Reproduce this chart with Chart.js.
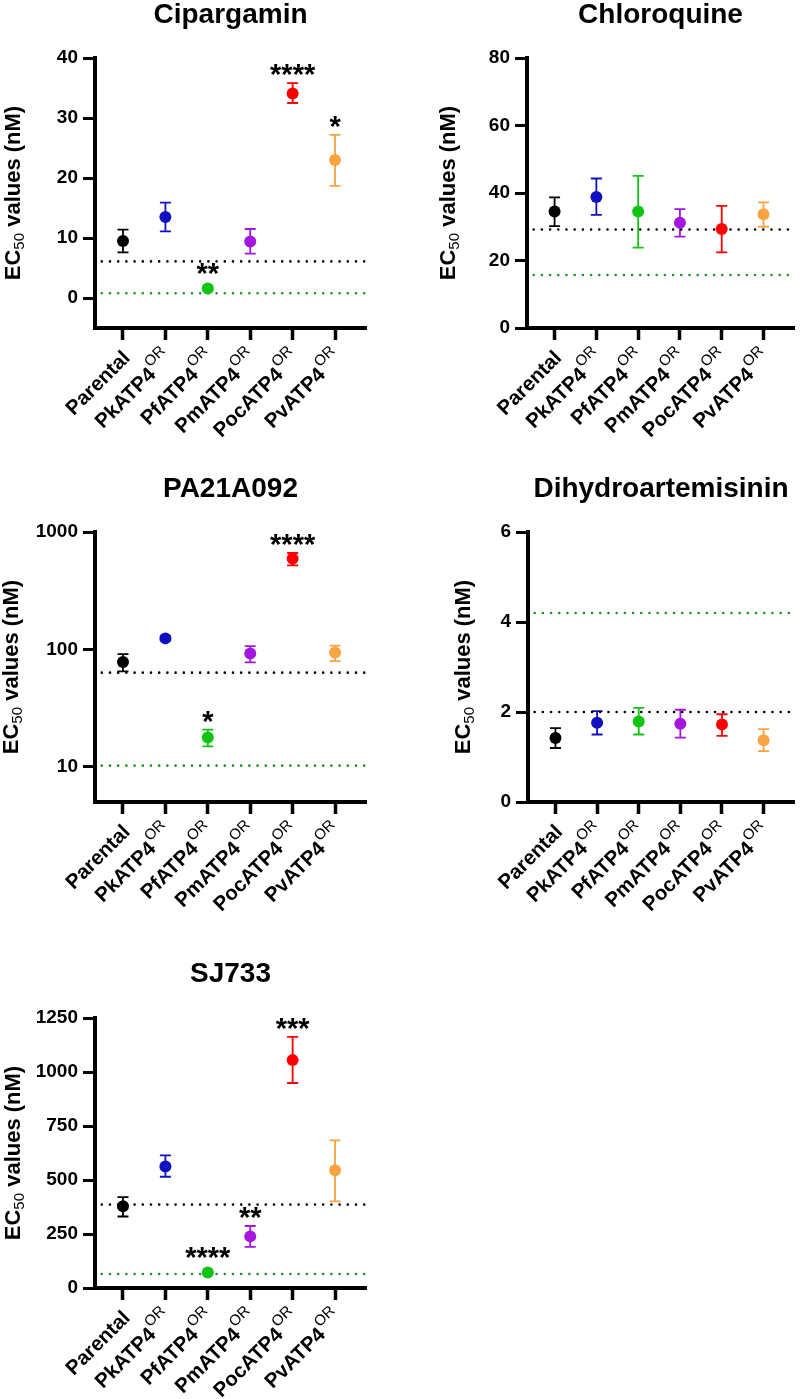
<!DOCTYPE html>
<html>
<head>
<meta charset="utf-8">
<script src="https://cdn.jsdelivr.net/npm/chart.js@4.4.1/dist/chart.umd.min.js"></script>
<style>
  body { margin: 0; background: #fff; width: 800px; height: 1399px; position: relative; overflow: hidden; }
  canvas { position: absolute; }
</style>
</head>
<body>
<canvas id="cipargamin" width="400" height="460" style="left:0;top:0"></canvas>
<canvas id="chloroquine" width="400" height="460" style="left:400px;top:0"></canvas>
<canvas id="pa21" width="400" height="460" style="left:0;top:460px"></canvas>
<canvas id="dha" width="400" height="460" style="left:400px;top:460px"></canvas>
<canvas id="sj733" width="400" height="479" style="left:0;top:920px"></canvas>
<script>
var FONT = '"Liberation Sans", Arial, Helvetica, sans-serif';

var categories = ['Parental', 'PkATP4', 'PfATP4', 'PmATP4', 'PocATP4', 'PvATP4'];
var supers = ['', 'OR', 'OR', 'OR', 'OR', 'OR'];
var colors = ['#000000', '#1010c0', '#12c412', '#a516e0', '#ff0000', '#f9a343'];
var refColors = ['#000000', '#1f8f1f'];

// Cipargamin
var ciparMean = [9.5, 13.5, 1.6, 9.4, 34.1, 23.0];
var ciparLow = [7.6, 11.1, 1.3, 7.4, 32.5, 18.7];
var ciparHigh = [11.4, 15.9, 1.9, 11.5, 35.8, 27.2];
var ciparStars = ['', '', '**', '', '****', '*'];
var ciparRef = [6.1, 0.8];
var ciparTicks = [0, 10, 20, 30, 40];

// Chloroquine
var cqMean = [34.5, 38.8, 34.5, 31.2, 29.3, 33.7];
var cqLow = [30.2, 33.5, 23.8, 27.1, 22.4, 30.0];
var cqHigh = [38.7, 44.3, 45.1, 35.2, 36.2, 37.2];
var cqStars = ['', '', '', '', '', ''];
var cqRef = [29.2, 15.7];
var cqTicks = [0, 20, 40, 60, 80];

// PA21A092 (log axis)
var paMean = [78, 124, 17.7, 92, 593, 94];
var paLow = [65, 119, 14.9, 77.5, 520, 79.4];
var paHigh = [91, 129, 20.7, 106.6, 662, 107.7];
var paStars = ['', '', '*', '', '****', ''];
var paRef = [63.3, 10.2];
var paTicks = [10, 100, 1000];

// Dihydroartemisinin
var dhaMean = [1.42, 1.76, 1.79, 1.74, 1.72, 1.37];
var dhaLow = [1.20, 1.50, 1.50, 1.43, 1.47, 1.13];
var dhaHigh = [1.64, 2.02, 2.09, 2.05, 1.95, 1.62];
var dhaStars = ['', '', '', '', '', ''];
var dhaRef = [2.0, 4.2];
var dhaTicks = [0, 2, 4, 6];

// SJ733
var sjMean = [378, 563, 72, 239, 1055, 545];
var sjLow = [331, 515, 66, 190, 949, 401];
var sjHigh = [421, 614, 78, 287, 1163, 683];
var sjStars = ['', '', '****', '**', '***', ''];
var sjRef = [386, 65];
var sjTicks = [0, 250, 500, 750, 1000, 1250];

var X_MIN = -0.66, X_MAX = 5.73;
var R = 6;

function makePanel(id, p) {
  var canvas = document.getElementById(id);
  var W = canvas.width, H = canvas.height;

  var points = p.mean.map(function (v, i) { return { x: i, y: v }; });

  function refLine(v, color) {
    return {
      data: [{ x: -0.5, y: v }, { x: X_MAX, y: v }],
      showLine: true,
      borderColor: color,
      borderWidth: 2.6,
      borderDash: [0, 8.2],
      borderCapStyle: 'round',
      pointRadius: 0,
      fill: false
    };
  }

  var overlay = {
    id: 'overlay',
    beforeDatasetsDraw: function (chart) {
      var ctx = chart.ctx, xs = chart.scales.x, ys = chart.scales.y;
      ctx.save();
      ctx.lineWidth = 1.8;
      p.mean.forEach(function (v, i) {
        var x = xs.getPixelForValue(i);
        var yl = ys.getPixelForValue(p.low[i]);
        var yh = ys.getPixelForValue(p.high[i]);
        ctx.strokeStyle = colors[i];
        ctx.beginPath();
        ctx.moveTo(x, yl); ctx.lineTo(x, yh);
        ctx.moveTo(x - 5.5, yh); ctx.lineTo(x + 5.5, yh);
        ctx.moveTo(x - 5.5, yl); ctx.lineTo(x + 5.5, yl);
        ctx.stroke();
      });
      ctx.restore();
    },
    afterDraw: function (chart) {
      var ctx = chart.ctx, xs = chart.scales.x, ys = chart.scales.y;
      var ca = chart.chartArea;
      ctx.save();
      ctx.fillStyle = '#000';

      // title
      ctx.font = 'bold 28px ' + FONT;
      ctx.textAlign = 'center';
      ctx.textBaseline = 'alphabetic';
      ctx.fillText(p.title, (ca.left + ca.right) / 2, p.titleY);

      // y axis title with subscript
      ctx.save();
      ctx.translate(p.yTitleX, (ca.top + ca.bottom) / 2);
      ctx.rotate(-Math.PI / 2);
      ctx.textAlign = 'left';
      ctx.font = 'bold 22px ' + FONT;
      var w1 = ctx.measureText('EC').width;
      var w3 = ctx.measureText(' values (nM)').width;
      ctx.font = '15px ' + FONT;
      var w2 = ctx.measureText('50').width;
      var start = -(w1 + w2 + w3) / 2;
      ctx.font = 'bold 22px ' + FONT;
      ctx.fillText('EC', start, 8);
      ctx.fillText(' values (nM)', start + w1 + w2, 8);
      ctx.font = '15px ' + FONT;
      ctx.fillText('50', start + w1, 12);
      ctx.restore();

      // category labels
      categories.forEach(function (name, i) {
        var px = xs.getPixelForValue(i);
        ctx.save();
        ctx.translate(px + 4, ca.bottom + 27);
        ctx.rotate(-Math.PI / 4);
        ctx.textAlign = 'left';
        ctx.textBaseline = 'middle';
        ctx.font = '15px ' + FONT;
        var sw = supers[i] ? ctx.measureText(supers[i]).width + 1 : 0;
        ctx.font = 'bold 20.5px ' + FONT;
        var mw = ctx.measureText(name).width;
        ctx.fillText(name, -(mw + sw), 0);
        if (supers[i]) {
          ctx.font = '15px ' + FONT;
          ctx.fillText(supers[i], -sw + 1, -9);
        }
        ctx.restore();
      });

      // significance stars
      ctx.font = 'bold 29px ' + FONT;
      ctx.textAlign = 'center';
      ctx.textBaseline = 'alphabetic';
      p.stars.forEach(function (s, i) {
        if (!s) return;
        var top = Math.min(ys.getPixelForValue(p.high[i]), ys.getPixelForValue(p.mean[i]) - R);
        ctx.fillText(s, xs.getPixelForValue(i), top + 1);
      });
      ctx.restore();
    }
  };

  new Chart(canvas.getContext('2d'), {
    type: 'scatter',
    data: {
      datasets: [
        {
          data: points,
          pointRadius: R,
          pointHoverRadius: R,
          pointBackgroundColor: colors,
          pointBorderColor: colors,
          pointBorderWidth: 0
        },
        refLine(p.ref[0], refColors[0]),
        refLine(p.ref[1], refColors[1])
      ]
    },
    options: {
      responsive: false,
      devicePixelRatio: 1,
      animation: false,
      events: [],
      layout: { padding: { left: 0, top: p.area[1], right: W - p.area[2], bottom: 0 } },
      plugins: { legend: { display: false }, tooltip: { enabled: false } },
      scales: {
        x: {
          type: 'linear',
          min: X_MIN,
          max: X_MAX,
          afterBuildTicks: function (s) {
            s.min = X_MIN; s.max = X_MAX;
            s.ticks = categories.map(function (c, i) { return { value: i }; });
          },
          afterFit: function (s) { s.height = H - p.area[3]; },
          ticks: { display: false },
          grid: { drawOnChartArea: false, drawTicks: true, tickLength: 12, tickWidth: 3.5, tickColor: '#000' },
          border: { display: true, width: 4, color: '#000' }
        },
        y: {
          type: p.log ? 'logarithmic' : 'linear',
          min: p.min,
          max: p.max,
          afterBuildTicks: function (s) {
            s.min = p.min; s.max = p.max;
            s.ticks = p.ticks.map(function (v) { return { value: v }; });
          },
          afterFit: function (s) { s.width = p.area[0]; },
          ticks: {
            color: '#000',
            padding: 5,
            font: { family: FONT, size: 19, weight: 'bold' },
            callback: function (v) { return String(v); }
          },
          grid: { drawOnChartArea: false, drawTicks: true, tickLength: 12, tickWidth: 3, tickColor: '#000' },
          border: { display: true, width: 4, color: '#000' }
        }
      }
    },
    plugins: [overlay]
  });
}

makePanel('cipargamin', {
  title: 'Cipargamin', mean: ciparMean, low: ciparLow, high: ciparHigh, stars: ciparStars,
  ref: ciparRef, ticks: ciparTicks, min: -5, max: 40,
  area: [95, 58, 366, 328], titleY: 23, yTitleX: 12
});
makePanel('chloroquine', {
  title: 'Chloroquine', mean: cqMean, low: cqLow, high: cqHigh, stars: cqStars,
  ref: cqRef, ticks: cqTicks, min: 0, max: 80,
  area: [127, 58, 398, 328], titleY: 23, yTitleX: 47
});
makePanel('pa21', {
  title: 'PA21A092', mean: paMean, low: paLow, high: paHigh, stars: paStars,
  ref: paRef, ticks: paTicks, min: 5, max: 1000, log: true,
  area: [95, 72, 366, 342], titleY: 37, yTitleX: 10
});
makePanel('dha', {
  title: 'Dihydroartemisinin', mean: dhaMean, low: dhaLow, high: dhaHigh, stars: dhaStars,
  ref: dhaRef, ticks: dhaTicks, min: 0, max: 6,
  area: [128, 72, 399, 342], titleY: 37, yTitleX: 62
});
makePanel('sj733', {
  title: 'SJ733', mean: sjMean, low: sjLow, high: sjHigh, stars: sjStars,
  ref: sjRef, ticks: sjTicks, min: 0, max: 1250,
  area: [95, 98, 366, 368], titleY: 62, yTitleX: 12
});
</script>
</body>
</html>
